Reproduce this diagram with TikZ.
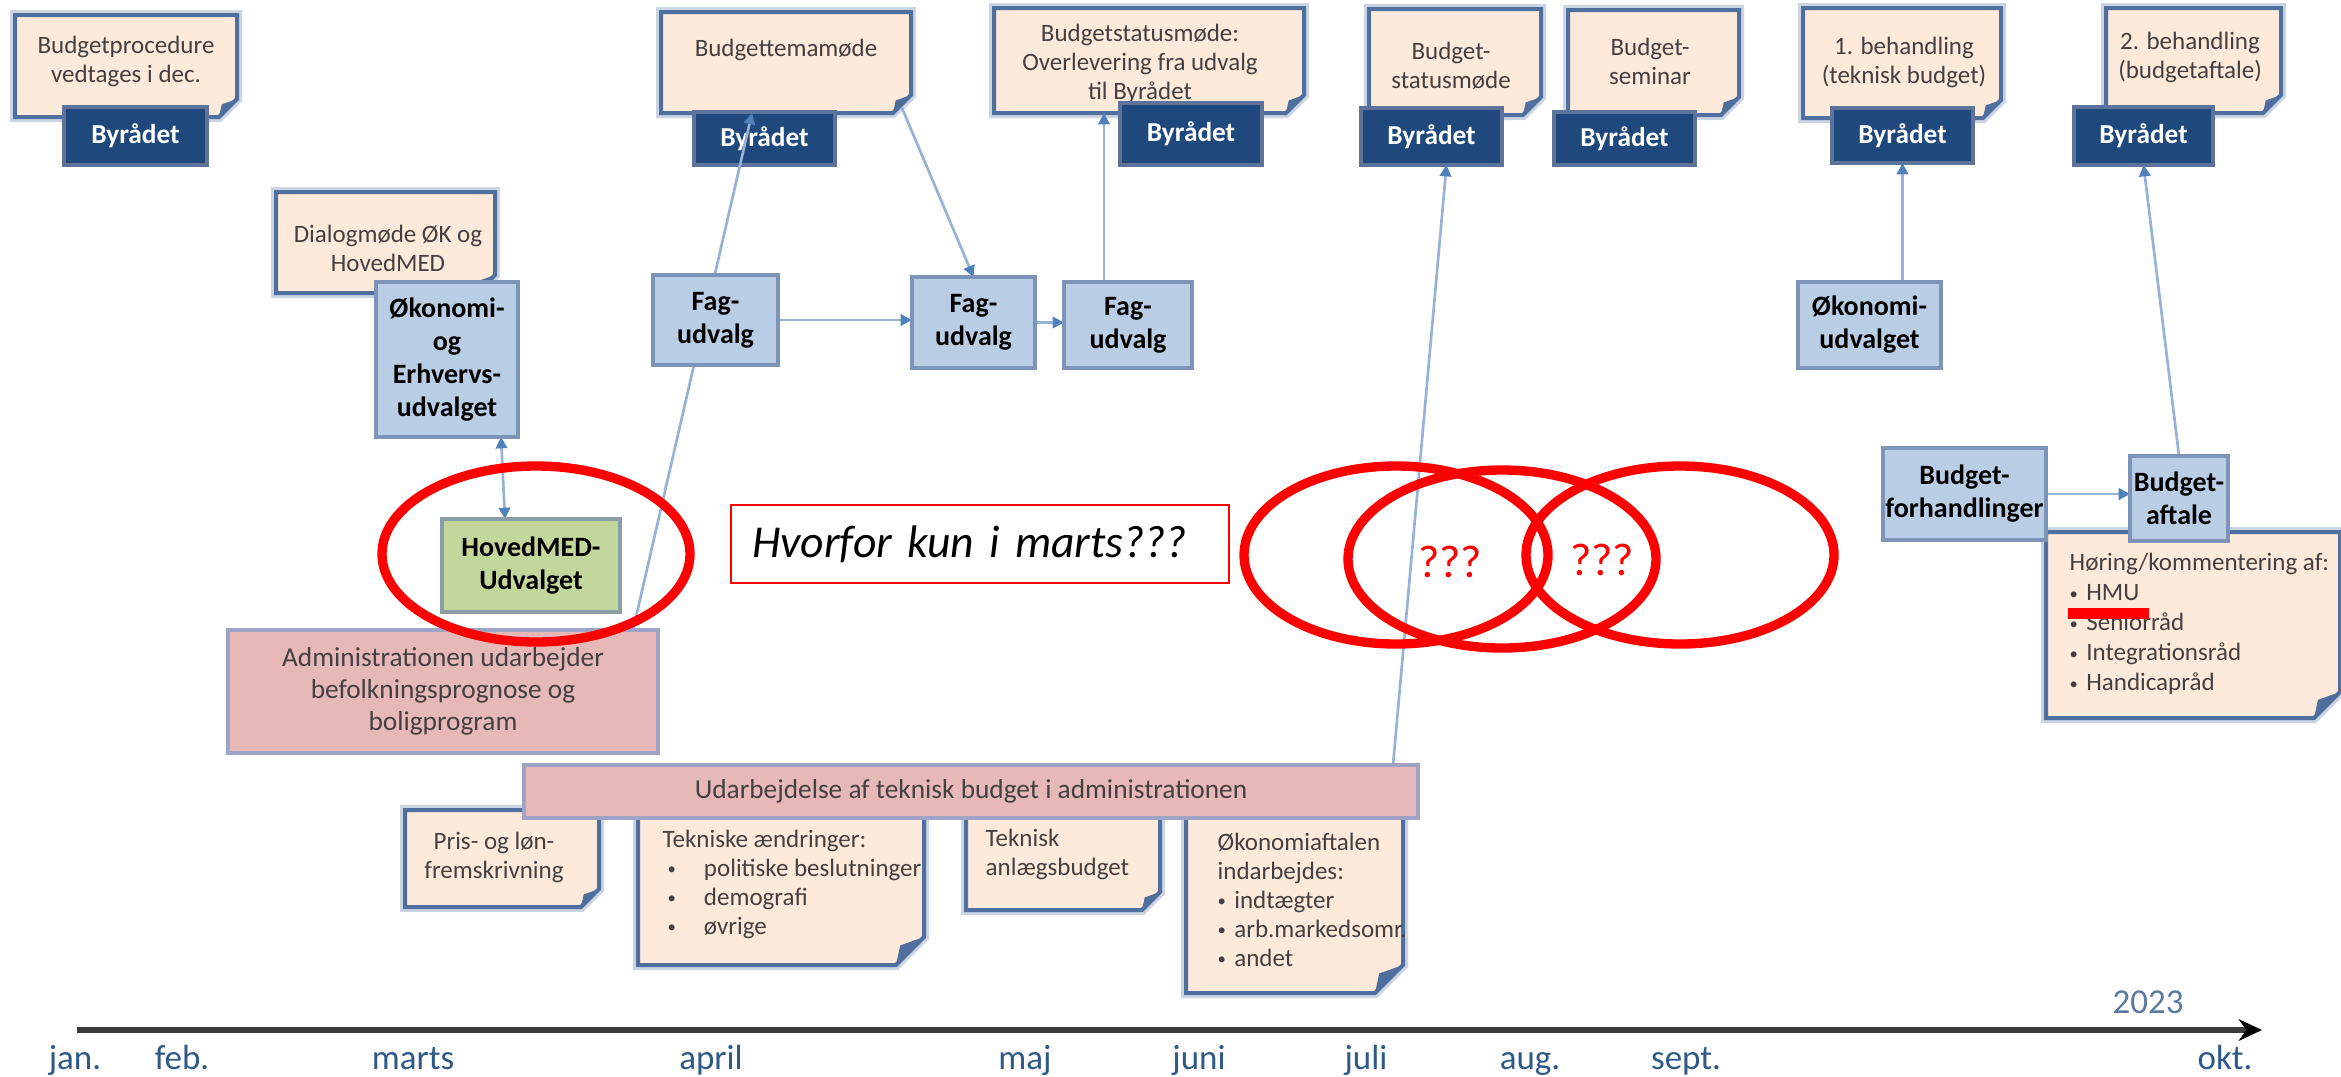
\documentclass[tikz,border=0pt]{standalone}
\usepackage{fontspec}
\setmainfont{Carlito}
\usetikzlibrary{arrows.meta,backgrounds}
\definecolor{notefill}{HTML}{FDEADA}
\definecolor{noteline}{HTML}{4F6F9E}
\definecolor{notehalo}{HTML}{CBD4E3}
\definecolor{notetext}{HTML}{454040}
\definecolor{councilfill}{HTML}{1F497D}
\definecolor{councilline}{HTML}{5E7399}
\definecolor{comfill}{HTML}{B9CDE5}
\definecolor{comline}{HTML}{7D93B8}
\definecolor{medfill}{HTML}{C3D69B}
\definecolor{medline}{HTML}{8B9DA6}
\definecolor{adminfill}{HTML}{E6B9B8}
\definecolor{adminline}{HTML}{9FA3C5}
\definecolor{linkcol}{HTML}{95B3D7}
\definecolor{tipcol}{HTML}{4F81BD}
\definecolor{monthcol}{HTML}{2F5987}
\definecolor{yearcol}{HTML}{5A7A9E}
\definecolor{axiscol}{HTML}{3C3C3C}
\newcommand\pxu{0.3pt}
\newcommand\smallbullet{{\fontsize{5}{5}\selectfont\raisebox{0.5pt}{•}}}
%sticky note with folded corner: [fold], name, x1, y1, x2, y2
\newcommand\notebox[6][18]{%
  \node[notearea, minimum width={(#5-#3)*\pxu}, minimum height={(#6-#4)*\pxu}] (#2) at ({(#3+#5)/2},{(#4+#6)/2}) {};
  \draw[notehalo] (#2.north west) -- (#2.north east) -- ([yshift=#1*\pxu]#2.south east) -- ([xshift=-#1*\pxu]#2.south east) -- (#2.south west) -- cycle;
  \filldraw[notebody] (#2.north west) -- (#2.north east) -- ([yshift=#1*\pxu]#2.south east) -- ([xshift=-#1*\pxu]#2.south east) -- (#2.south west) -- cycle;
  \fill[noteline] ([yshift=#1*\pxu]#2.south east) -- ([xshift=-#1*\pxu]#2.south east) -- ([xshift=-0.85*#1*\pxu,yshift=0.7*#1*\pxu]#2.south east) -- cycle;
}
%box given by its corners: style, name, x1, y1, x2, y2, text
\newcommand\boxnode[7]{%
  \node[#1, minimum width={(#5-#3)*\pxu}, minimum height={(#6-#4)*\pxu}] (#2) at ({(#3+#5)/2},{(#4+#6)/2}) {#7};
}
\tikzset{
  notearea/.style={inner sep=0pt, outer sep=0pt},
  notebody/.style={fill=notefill, draw=noteline, line width=1.2pt},
  notehalo/.style={draw=notehalo, line width=3pt},
  notetext/.style={font=\fontsize{7.5}{8.7}\selectfont, text=notetext, align=center, inner sep=0pt},
  notelist/.style={notetext, align=left, anchor=west},
  council/.style={fill=councilfill, draw=councilline, line width=1.1pt, text=white, font=\bfseries\fontsize{8.2}{9.6}\selectfont, inner sep=0pt, outer sep=0pt},
  committee/.style={fill=comfill, draw=comline, line width=1.2pt, font=\bfseries\fontsize{8.4}{9.9}\selectfont, align=center, inner sep=0pt, outer sep=0pt},
  medbox/.style={committee, fill=medfill, draw=medline},
  adminbox/.style={fill=adminfill, draw=adminline, line width=1.4pt, text=notetext, font=\fontsize{8.2}{9.6}\selectfont, align=center, inner sep=0pt, outer sep=0pt},
  redmark/.style={fill=red, inner sep=0pt, outer sep=0pt},
  askbox/.style={draw=red, line width=0.6pt, fill=white, font=\itshape\fontsize{13.7}{17}\selectfont, align=left},
  tip/.tip={Triangle[length=3.4pt,width=3.4pt,color=tipcol]},
  link/.style={draw=linkcol, line width=0.8pt, -tip},
  twoway/.style={link, tip-tip},
  ring/.style={draw=red, line width=2.8pt},
  query/.style={text=red, font=\fontsize{13.8}{16}\selectfont, inner sep=0pt},
  month/.style={text=monthcol, font=\fontsize{10.5}{12}\selectfont, inner sep=0pt},
  axis/.style={draw=axiscol, line width=1.8pt, -{Stealth[length=7pt,width=6.5pt,color=black]}}
}
\begin{document}
\begin{tikzpicture}[x=\pxu,y=-\pxu]
\useasboundingbox (0,0) rectangle (2341,1076);

%notes and council boxes sit behind everything
\begin{scope}[on background layer]
\notebox{n1}{15}{15}{237}{117}
\node[notetext] (n1txt) at (126,61) {Budgetprocedure\\vedtages i dec.};
\notebox{n2}{661}{12}{911}{113}
\node[notetext] (n2txt) at (786,50) {Budgettemamøde};
\notebox{n3}{994}{8}{1304}{113}
\node[notetext] (n3txt) at (1140,64) {Budgetstatusmøde:\\Overlevering fra udvalg\\til Byrådet};
\notebox{n4}{1369}{9}{1541}{115}
\node[notetext] (n4txt) at (1451,66) {Budget-\\statusmøde};
\notebox{n5}{1568}{10}{1739}{115}
\node[notetext] (n5txt) at (1650,61) {Budget-\\seminar};
\notebox{n6}{1803}{8}{2001}{118}
\node[notetext] (n6txt) at (1904,62) {1. behandling\\(teknisk budget)};
\notebox{n7}{2106}{8}{2281}{113}
\node[notetext] (n7txt) at (2190,57) {2. behandling\\(budgetaftale)};

\boxnode{council}{by1}{64}{107}{207}{165}{Byrådet}
\boxnode{council}{by2}{694}{112}{835}{165}{Byrådet}
\boxnode{council}{by3}{1120}{103}{1262}{165}{Byrådet}
\boxnode{council}{by4}{1361}{108}{1502}{165}{Byrådet}
\boxnode{council}{by5}{1554}{112}{1695}{165}{Byrådet}
\boxnode{council}{by6}{1832}{108}{1973}{163}{Byrådet}
\boxnode{council}{by7}{2074}{107}{2213}{165}{Byrådet}

\notebox{n8}{276}{192}{495}{293}
\node[notetext] (n8txt) at (388,248) {Dialogmøde ØK og\\HovedMED};

%notes under the technical budget bar
\notebox{n9}{405}{810}{599}{907}
\node[notetext] (n9txt) at (494,857) {Pris- og løn-\\fremskrivning};
\notebox[28]{n10}{638}{800}{924}{965}
\node[notelist] (n10txt) at (662,884) {Tekniske ændringer:\\\hspace*{1.5pt}\smallbullet\hspace{8.4pt}politiske beslutninger\\\hspace*{1.5pt}\smallbullet\hspace{8.4pt}demografi\\\hspace*{1.5pt}\smallbullet\hspace{8.4pt}øvrige};
\notebox{n11}{966}{800}{1160}{910}
\node[notelist] (n11txt) at (985,854) {Teknisk\\anlægsbudget};
\notebox[28]{n12}{1186}{800}{1403}{993}
\node[notelist] (n12txt) at (1217,900) {Økonomiaftalen\\indarbejdes:\\\smallbullet\hspace{2.5pt}indtægter\\\smallbullet\hspace{2.5pt}arb.markedsomr.\\\smallbullet\hspace{2.5pt}andet};

\notebox[26]{n13}{2046}{532}{2340}{718}
\node[notelist, font=\fontsize{7.5}{9}\selectfont] (n13txt) at (2069,624) {Høring/kommentering af:\\\smallbullet\hspace{2.5pt}HMU\\\smallbullet\hspace{2.5pt}Seniorråd\\\smallbullet\hspace{2.5pt}Integrationsråd\\\smallbullet\hspace{2.5pt}Handicapråd};
\end{scope}

%committees
\boxnode{committee}{oe}{376}{282}{518}{437}{Økonomi-\\og\\Erhvervs-\\udvalget}
\boxnode{medbox}{hmed}{442}{519}{620}{612}{HovedMED-\\Udvalget}
\boxnode{committee}{fag1}{653}{275}{778}{365}{Fag-\\udvalg}
\boxnode{committee}{fag2}{912}{277}{1035}{368}{Fag-\\udvalg}
\boxnode{committee}{fag3}{1064}{282}{1192}{368}{Fag-\\udvalg}
\boxnode{committee}{okud}{1798}{282}{1941}{368}{Økonomi-\\udvalget}
\boxnode{committee}{forh}{1883}{448}{2046}{540}{Budget-\\forhandlinger}
\boxnode{committee}{aftale}{2130}{456}{2228}{541}{Budget-\\aftale}
\boxnode{redmark}{hmu}{2068}{608}{2149}{619}{}

%administration
\boxnode{adminbox}{admin}{228}{630}{658}{753}{Administrationen udarbejder\\befolkningsprognose og\\boligprogram}
\boxnode{adminbox}{bar}{524}{765}{1418}{818}{Udarbejdelse af teknisk budget i administrationen}

\node[askbox, anchor=west, text width=136.8pt, inner xsep=6.3pt, minimum height=78*\pxu] (ask) at (730,544) {Hvorfor kun i marts???};

%connectors, drawn under the committee boxes
\begin{scope}[on background layer]
\draw[twoway] ([xshift=-26*\pxu]hmed.north) -- ([xshift=54*\pxu]oe.south);
\draw[link] ([xshift=-25*\pxu]admin.north east) -- ([xshift=-34*\pxu]n2.south);
\draw[link] ([xshift=-9*\pxu,yshift=5*\pxu]n2.south east) -- (fag2.north);
\draw[link] (fag1.east) -- (fag1.east -| fag2.west);
\draw[link] (fag2.east) -- (fag2.east -| fag3.west);
\draw[link] ([xshift=-24*\pxu]fag3.north) -- ([xshift=-24*\pxu]fag3.north |- n3.south);
\draw[link] ([xshift=-25*\pxu]bar.north east) -- ([xshift=15*\pxu]by4.south);
\draw[link] (by6.south |- okud.north) -- (by6.south);
\draw[link] (aftale.north) -- (by7.south);
\draw[link] (forh.east) -- (forh.east -| aftale.west);
\end{scope}

%red rings
\draw[ring] (536,554) ellipse [x radius=154*\pxu, y radius=88*\pxu];
\draw[ring] (1396,555) ellipse [x radius=152*\pxu, y radius=89*\pxu];
\draw[ring] (1502,559) ellipse [x radius=154*\pxu, y radius=89*\pxu];
\draw[ring] (1680,555) ellipse [x radius=154*\pxu, y radius=89*\pxu];
\node[query] (q1) at (1450,562) {???};
\node[query] (q2) at (1602,560) {???};

%time axis
\coordinate (t0) at (77,1030);
\coordinate (t1) at (2262,1030);
\draw[axis] (t0) -- (t1);
\foreach \mname/\mx [count=\i] in {jan./75, feb./182, marts/413, april/711, maj/1025, juni/1199, juli/1366, aug./1530, sept./1686, okt./2225}
  \node[month, anchor=base] (month\i) at (\mx,1069) {\mname};
\node[month, anchor=base, text=yearcol] (year) at (2148,1013) {2023};
\end{tikzpicture}
\end{document}
